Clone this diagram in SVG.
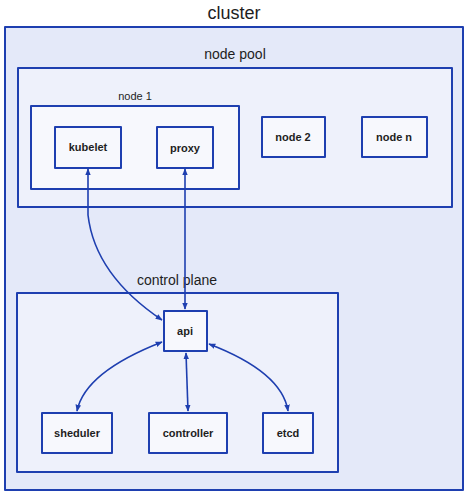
<svg xmlns="http://www.w3.org/2000/svg" width="471" height="500" viewBox="0 0 471 500">
<defs>
<style>
.box{stroke:#1e3fb0;stroke-width:2;stroke-linejoin:round}
.c{fill:#e4e9f9}
.p{fill:#eef1fb}
.n{fill:#f7f8fd}
.lbl{font-family:"Liberation Sans",Arial,sans-serif;fill:#1e1e1e;text-anchor:middle}
.big{font-size:18px}
.mid{font-size:14px}
.sm{font-size:11px;font-weight:bold}
.con{fill:none;stroke:#1e3fb0;stroke-width:1.6;marker-start:url(#ah);marker-end:url(#ah)}
</style>
<marker id="ah" viewBox="0 0 10 10" refX="9" refY="5" markerWidth="7" markerHeight="7" orient="auto-start-reverse" markerUnits="userSpaceOnUse">
<path d="M0,1 L10,5 L0,9 Z" fill="#1e3fb0"/>
</marker>
</defs>
<rect width="471" height="500" fill="#ffffff"/>
<g id="cluster">
<rect class="box c" x="5" y="27" width="458" height="463"/>
<text class="lbl big" x="234" y="19">cluster</text>
</g>
<g id="node-pool">
<rect class="box p" x="18" y="68" width="434" height="139"/>
<text class="lbl mid" x="235" y="59">node pool</text>
</g>
<g id="node1">
<rect class="box n" x="31" y="106" width="208" height="83"/>
<text class="lbl" style="font-size:11px" x="135" y="100">node 1</text>
</g>
<g id="kubelet">
<rect class="box n" x="55" y="127" width="66" height="41"/>
<text class="lbl sm" x="88" y="151">kubelet</text>
</g>
<g id="proxy">
<rect class="box n" x="157" y="127" width="56" height="41"/>
<text class="lbl sm" x="185" y="152">proxy</text>
</g>
<g id="node2">
<rect class="box n" x="262" y="117" width="63" height="40"/>
<text class="lbl sm" x="293" y="141">node 2</text>
</g>
<g id="noden">
<rect class="box n" x="362" y="117" width="65" height="40"/>
<text class="lbl sm" x="394" y="141">node n</text>
</g>
<g id="control-plane">
<rect class="box p" x="17" y="293" width="321" height="179"/>
<text class="lbl mid" x="177" y="285">control plane</text>
</g>
<g id="api">
<rect class="box n" x="164" y="311" width="43" height="40"/>
<text class="lbl sm" x="185" y="335">api</text>
</g>
<g id="sheduler">
<rect class="box n" x="42" y="413" width="70" height="40"/>
<text class="lbl sm" x="77" y="437">sheduler</text>
</g>
<g id="controller">
<rect class="box n" x="149" y="413" width="78" height="40"/>
<text class="lbl sm" x="188" y="437">controller</text>
</g>
<g id="etcd">
<rect class="box n" x="263" y="413" width="50" height="40"/>
<text class="lbl sm" x="288" y="437">etcd</text>
</g>
<g id="connectors">
<path class="con" d="M88,169 L88,215 Q95,275 162,320"/>
<path class="con" d="M185,169 L185,309"/>
<path class="con" d="M162,342 Q85,372 77,411"/>
<path class="con" d="M186,353 L188,411"/>
<path class="con" d="M209,344 Q282,372 288,411"/>
</g>
</svg>
